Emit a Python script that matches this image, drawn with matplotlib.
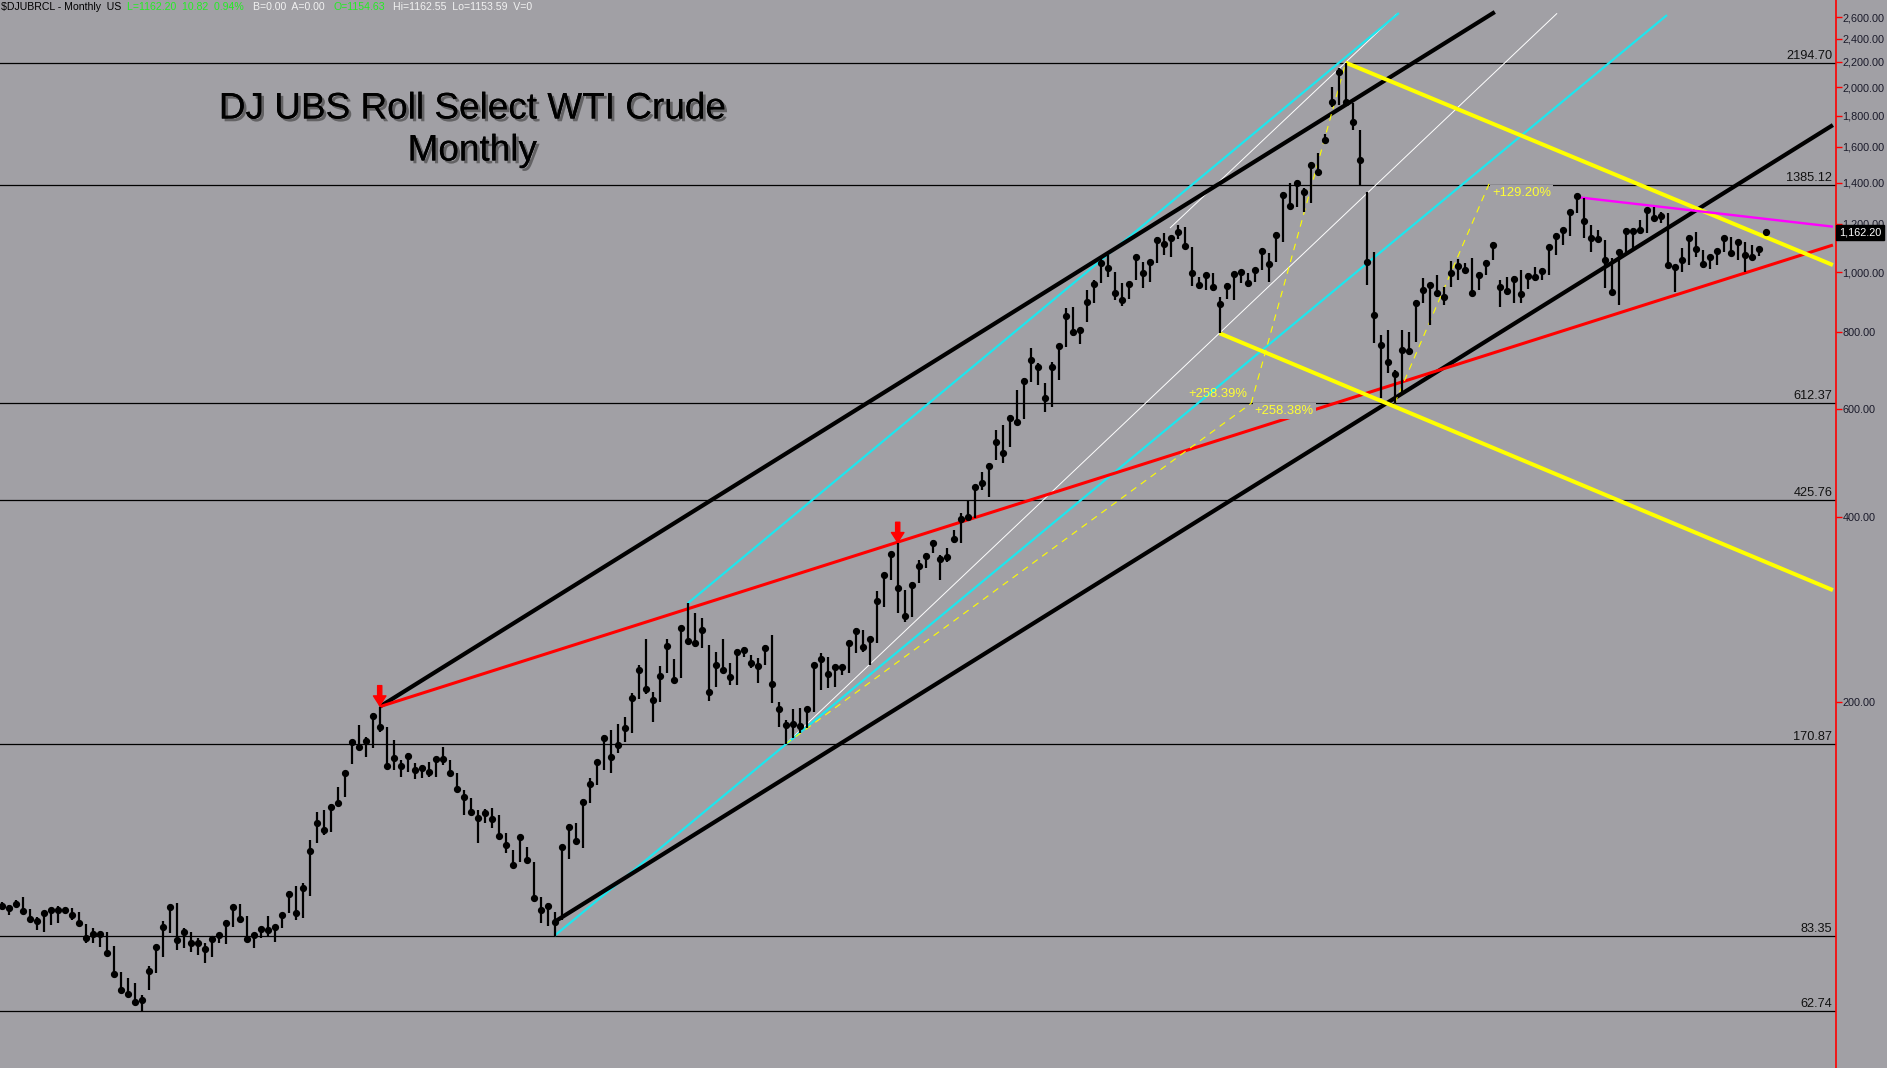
import matplotlib
matplotlib.use("Agg")
import matplotlib.pyplot as plt
import matplotlib.patheffects as pe
from matplotlib.ticker import FixedLocator, FuncFormatter, NullLocator

plt.rcParams['font.family'] = ['Liberation Sans', 'DejaVu Sans']

# monthly bars (close, high, low)
close = [93.1, 92.3, 93.8, 91.5, 88.7, 88.0, 90.8, 91.7, 91.7, 91.7,
         89.9, 87.3, 82.5, 83.7, 83.7, 78.0, 72.1, 68.0, 67.0, 65.1,
         65.5, 73.0, 79.9, 86.0, 92.9, 82.0, 84.4, 81.0, 81.0, 79.2,
         82.4, 83.4, 87.4, 92.8, 88.8, 82.3, 83.4, 85.3, 85.1, 86.1,
         89.9, 97.3, 90.6, 99.5, 114.3, 126.9, 123.8, 135.1, 137.1, 153.4,
         171.9, 169.1, 172.6, 190.0, 182.3, 157.3, 161.9, 157.5, 163.3, 155.0,
         156.0, 153.6, 161.5, 161.5, 153.1, 144.2, 140.2, 132.3, 129.3, 131.8,
         128.9, 121.1, 116.9, 108.6, 120.6, 110.6, 95.8, 91.7, 93.1, 87.8,
         116.3, 125.2, 118.7, 137.6, 147.2, 159.5, 174.9, 162.9, 170.2, 181.2,
         203.2, 225.5, 210.0, 201.5, 220.5, 247.0, 217.2, 263.6, 251.3, 249.4,
         261.9, 207.4, 229.7, 225.5, 219.9, 241.2, 243.0, 231.2, 229.1, 244.8,
         213.9, 194.6, 183.4, 184.1, 183.0, 194.8, 229.7, 235.2, 222.1, 227.7,
         227.7, 249.7, 261.2, 246.0, 253.5, 292.0, 321.8, 347.7, 306.2, 276.0,
         310.0, 333.2, 345.9, 363.2, 341.7, 344.6, 367.8, 396.4, 400.5, 448.1,
         453.8, 484.8, 529.1, 508.9, 580.2, 570.2, 666.4, 720.2, 702.3, 623.9,
         702.3, 759.8, 849.4, 798.8, 806.0, 895.1, 957.5, 1034.7, 1015.5, 924.7,
         901.8, 957.5, 1060.7, 998.9, 1039.8, 1129.1, 1111.0, 1138.8, 1163.4, 1104.1,
         996.7, 954.0, 990.4, 947.9, 888.5, 950.4, 994.1, 1000.3, 960.1, 1009.1,
         1084.8, 1032.1, 1151.8, 1336.3, 1282.5, 1399.2, 1353.0, 1495.3, 1458.2, 1642.4,
         1895.8, 2116.3, 1895.8, 1757.1, 1523.5, 1041.0, 852.6, 761.8, 713.9, 683.4,
         747.6, 744.9, 892.7, 936.2, 954.0, 924.7, 910.9, 998.9, 1024.4, 1009.1,
         924.7, 990.4, 1037.0, 1108.2, 947.9, 932.8, 975.7, 922.3, 986.7, 984.2,
         1006.5, 1101.1, 1146.2, 1172.2, 1255.3, 1331.4, 1212.4, 1137.5, 1133.4, 1047.6,
         928.2, 1080.7, 1169.1, 1167.8, 1172.2, 1263.4, 1224.6, 1235.3, 1028.2, 1019.2,
         1047.6, 1138.8, 1091.7, 1030.9, 1058.2, 1083.6, 1138.8, 1074.2, 1119.3, 1067.4,
         1060.7, 1091.7, 1162.20]
high = [94.6, 93.5, 95.2, 96.2, 92.0, 89.2, 91.1, 92.3, 93.1, 92.5,
        92.3, 90.9, 86.9, 85.6, 84.6, 84.4, 80.2, 72.6, 71.0, 69.7,
        66.7, 74.4, 80.2, 88.0, 93.5, 94.0, 85.6, 84.4, 82.7, 81.0,
        83.0, 84.2, 88.3, 93.5, 93.8, 89.7, 84.2, 86.2, 89.7, 86.7,
        90.6, 98.5, 100.4, 101.6, 119.2, 132.4, 133.4, 136.5, 145.3, 154.0,
        173.4, 183.2, 175.6, 191.6, 196.5, 182.3, 173.4, 160.9, 165.4, 158.9,
        157.9, 159.9, 162.9, 168.7, 160.9, 153.1, 143.8, 139.4, 133.4, 133.8,
        134.6, 131.0, 122.3, 114.9, 121.5, 116.3, 109.7, 96.4, 94.3, 91.1,
        117.0, 126.5, 126.9, 138.9, 150.2, 160.9, 176.7, 180.0, 184.1, 188.8,
        206.6, 229.7, 252.9, 207.9, 228.9, 252.9, 234.7, 265.2, 289.4, 279.4,
        273.6, 247.6, 241.5, 252.9, 231.2, 243.6, 246.0, 238.5, 235.5, 247.6,
        257.1, 200.2, 186.9, 194.6, 195.3, 196.5, 231.7, 240.5, 237.0, 229.7,
        229.7, 252.3, 263.6, 261.9, 255.4, 303.4, 324.6, 351.1, 362.4, 304.2,
        313.1, 340.4, 349.0, 366.9, 346.8, 355.6, 380.9, 405.6, 425.76, 450.9,
        474.0, 489.1, 554.1, 564.6, 586.1, 643.6, 672.4, 752.4, 711.3, 660.0,
        715.6, 764.6, 874.2, 879.5, 816.0, 936.2, 972.0, 1060.7, 1067.4, 1002.7,
        960.1, 965.8, 1067.4, 1041.0, 1047.6, 1140.5, 1157.8, 1146.2, 1194.3, 1183.9,
        1101.1, 984.2, 998.9, 998.9, 910.9, 960.1, 1002.7, 1009.1, 996.7, 1017.8,
        1094.6, 1074.2, 1164.7, 1353.0, 1396.2, 1413.6, 1370.3, 1513.8, 1562.2, 1677.9,
        2005.4, 2148.5, 2194.70, 1884.3, 1705.1, 1353.0, 1079.5, 790.8, 806.0, 693.7,
        806.0, 801.0, 901.8, 978.2, 960.1, 990.4, 947.9, 1045.0, 1050.3, 1034.7,
        1054.3, 1002.7, 1047.6, 1121.9, 972.0, 984.2, 986.7, 1009.1, 996.7, 1019.2,
        1015.5, 1108.2, 1157.8, 1179.6, 1263.4, 1336.3, 1319.9, 1194.3, 1172.2, 1129.1,
        1054.3, 1087.6, 1179.6, 1179.6, 1216.9, 1271.4, 1276.0, 1255.3, 1250.6, 1028.2,
        1094.6, 1150.5, 1164.7, 1087.6, 1067.4, 1090.4, 1146.2, 1143.2, 1129.1, 1121.9,
        1108.2, 1101.1, 1162.55]
low = [91.7, 90.0, 92.9, 91.1, 88.3, 85.1, 84.6, 86.7, 87.5, 90.6,
       88.3, 86.7, 81.0, 81.0, 79.9, 77.5, 71.6, 67.5, 66.7, 64.3,
       62.74, 68.0, 72.4, 77.0, 84.1, 79.0, 79.5, 78.5, 77.5, 75.3,
       77.0, 81.0, 80.8, 86.2, 87.8, 82.0, 79.5, 82.5, 83.0, 81.5,
       85.6, 90.6, 88.3, 88.9, 96.7, 117.8, 121.5, 123.0, 135.4, 140.2,
       158.3, 168.1, 162.9, 168.1, 178.9, 156.0, 155.0, 150.8, 154.0, 149.7,
       150.2, 151.2, 150.8, 157.9, 152.1, 143.4, 131.0, 131.8, 117.8, 126.9,
       124.6, 120.3, 113.4, 107.9, 109.9, 109.3, 95.2, 87.5, 86.4, 83.35,
       88.3, 110.9, 117.8, 115.6, 136.8, 146.5, 155.0, 153.4, 165.0, 172.3,
       177.8, 202.0, 205.8, 185.7, 200.2, 222.7, 215.8, 219.0, 249.2, 246.0,
       244.6, 201.0, 211.8, 222.7, 213.1, 213.1, 237.0, 226.9, 214.5, 229.7,
       199.4, 182.3, 170.87, 174.5, 177.8, 181.2, 192.8, 209.2, 210.5, 211.8,
       221.3, 222.7, 240.0, 241.5, 229.7, 249.2, 285.8, 315.8, 279.4, 270.2,
       274.6, 312.6, 330.0, 349.0, 315.8, 338.3, 362.4, 362.4, 395.4, 397.9,
       442.6, 431.6, 495.2, 489.1, 519.3, 568.2, 576.7, 663.9, 655.8, 593.4,
       604.6, 668.2, 756.9, 787.9, 764.6, 831.4, 890.8, 960.1, 984.2, 901.8,
       881.8, 904.2, 972.0, 942.2, 965.8, 1034.7, 1067.4, 1060.7, 1132.0, 1094.6,
       950.4, 938.6, 936.2, 933.8, 795.9, 904.2, 901.8, 960.1, 947.9, 965.8,
       1009.1, 965.8, 1041.0, 1121.9, 1271.4, 1279.1, 1255.3, 1295.4, 1449.4, 1622.2,
       1860.6, 1872.5, 1884.3, 1705.1, 1385.12, 954.0, 766.6, 623.9, 685.2, 612.37,
       635.7, 733.8, 771.2, 890.8, 821.2, 913.1, 885.1, 947.9, 972.0, 996.7,
       918.9, 936.2, 990.4, 1047.6, 879.5, 918.9, 890.8, 890.8, 938.6, 969.5,
       972.0, 990.4, 1067.4, 1108.2, 1146.2, 1250.6, 1136.3, 1080.7, 1121.9, 942.2,
       918.9, 885.1, 1080.7, 1094.6, 1157.8, 1157.8, 1216.9, 1201.9, 1021.7, 930.3,
       1002.7, 1028.2, 1060.7, 1015.5, 1011.7, 1028.2, 1080.7, 1067.4, 1047.6, 1002.7,
       1050.3, 1063.5, 1153.59]
bar_idx = list(range(len(close)))

# horizontal price levels
levels = [2194.70, 1385.12, 612.37, 425.76, 170.87, 83.35, 62.74]

# trend lines as (bar index, price) pairs
upper_black = [(54, 196.5), (213.3, 2653)]
lower_black = [(79, 87.8), (261.6, 1737)]
cyan_upper = [(98, 289.4), (199.6, 2643)]
cyan_lower = [(79, 83.35), (237.9, 2623)]
white_long = [(112, 170.87), (222.2, 2640)]
white_short = [(166.9, 1181), (199.3, 2633)]
red_line = [(54, 196.5), (261.6, 1108)]
yellow_upper = [(192, 2194.7), (261.6, 1028)]
yellow_lower = [(174, 795.9), (261.6, 304.1)]
magenta_line = [(225, 1326), (261.6, 1187)]
dash_a = [(112, 170.87), (178.5, 612.37)]
dash_b = [(178.5, 612.37), (192, 2194.7)]
dash_c = [(199, 612.37), (212.6, 1403.5)]
arrow_bars = [54, 128]

right_ticks = [200, 400, 600, 800, 1000, 1200, 1400, 1600, 1800, 2000, 2200, 2400, 2600]
last_price = 1162.20

bg = '#a1a0a5'
W, H = 1887, 1068
fig = plt.figure(figsize=(W / 100, H / 100), dpi=100, facecolor=bg)
ax = fig.add_axes([0, 0, 1835.7 / W, 1])
ax.set_facecolor(bg)
ax.set_yscale('log')
ax.set_ylim(50.75, 2775)
ax.set_xlim(-0.243, 262.0)

# horizontal lines + their labels
for lv in levels:
    ax.axhline(lv, color='black', lw=0.9, zorder=1)
    ax.text(261.5, lv * 1.004, '%.2f' % lv, ha='right', va='bottom',
            fontsize=9.2, color='#111111', zorder=2)


def seg(pts, **kw):
    ax.plot([p[0] for p in pts], [p[1] for p in pts], solid_capstyle='butt', **kw)


seg(white_long, color='white', lw=0.7, zorder=3)
seg(white_short, color='white', lw=0.7, zorder=3)
seg(cyan_upper, color='#1ee6ee', lw=1.6, zorder=3)
seg(cyan_lower, color='#1ee6ee', lw=1.6, zorder=3)
seg(upper_black, color='black', lw=3.0, zorder=3)
seg(lower_black, color='black', lw=3.0, zorder=3)
seg(red_line, color='#ff0000', lw=2.2, zorder=3)
seg(yellow_upper, color='#ffff00', lw=2.9, zorder=3)
seg(yellow_lower, color='#ffff00', lw=2.9, zorder=3)
seg(magenta_line, color='#ff00ff', lw=1.7, zorder=3)
for d in (dash_a, dash_b, dash_c):
    seg(d, color='#ffff00', lw=0.8, ls=(0, (6, 5)), zorder=3)

# percentage labels
box = dict(boxstyle='square,pad=0.15', fc=bg, ec='none')
ax.text(177.9, 634, '+258.39%', ha='right', va='center', fontsize=9.4,
        color='#ffff33', zorder=4)
ax.text(179.0, 595, '+258.38%', ha='left', va='center', fontsize=9.4,
        color='#ffff33', bbox=box, zorder=4)
ax.text(212.9, 1346, '+129.20%', ha='left', va='center', fontsize=9.4,
        color='#ffff33', bbox=box, zorder=4)

# the monthly bars
ax.vlines(bar_idx, low, high, color='black', lw=1.6, zorder=5)
ax.plot(bar_idx, close, 'o', color='black', ms=4.2, zorder=6)

# red arrows over the two highs
for b in arrow_bars:
    ax.annotate('', xy=(b, high[b] * 1.004), xytext=(0, 20),
                textcoords='offset pixels',
                arrowprops=dict(facecolor='#ff0000', edgecolor='#ff0000',
                                width=3, headwidth=9, headlength=7),
                zorder=7)

# right axis
for s in ['top', 'left', 'bottom']:
    ax.spines[s].set_visible(False)
ax.spines['right'].set_color('#ff0000')
ax.spines['right'].set_linewidth(1.2)
ax.xaxis.set_major_locator(NullLocator())
ax.yaxis.tick_right()
ax.yaxis.set_major_locator(FixedLocator(right_ticks))
ax.yaxis.set_minor_locator(NullLocator())
ax.yaxis.set_major_formatter(FuncFormatter(lambda v, p: '{:,.2f}'.format(v)))
ax.tick_params(axis='y', colors='#ff0000', labelcolor='#1a1a2a', length=4,
               width=1, pad=1, labelsize=7.8)

ax.annotate('{:,.2f}'.format(last_price), xy=(1, last_price),
            xycoords=('axes fraction', 'data'), xytext=(3, 0),
            textcoords='offset pixels', ha='left', va='center', fontsize=7.8,
            color='white', annotation_clip=False,
            bbox=dict(boxstyle='square,pad=0.25', fc='black', ec='black'))

# header line
hdr_y = 1 - 7 / H
fig.text(1 / W, hdr_y, '$DJUBRCL - Monthly  US', fontsize=7.6, color='black', va='center')
fig.text(127 / W, hdr_y, 'L=1162.20  10.82  0.94%', fontsize=7.6, color='#22ee22', va='center')
fig.text(253 / W, hdr_y, 'B=0.00  A=0.00', fontsize=7.6, color='#f2f2f2', va='center')
fig.text(334 / W, hdr_y, 'O=1154.63', fontsize=7.6, color='#22ee22', va='center')
fig.text(393 / W, hdr_y, 'Hi=1162.55  Lo=1153.59  V=0', fontsize=7.6, color='#f2f2f2', va='center')

# title with a soft shadow
shadow = [pe.withSimplePatchShadow(offset=(2, -2), shadow_rgbFace='#3a3a3a', alpha=0.6), pe.Normal()]
fig.text(472 / W, 1 - 109 / H, 'DJ UBS Roll Select WTI Crude', fontsize=26.6,
         ha='center', va='center', color='black', path_effects=shadow)
fig.text(472 / W, 1 - 151 / H, 'Monthly', fontsize=26.6,
         ha='center', va='center', color='black', path_effects=shadow)

fig.savefig('out.png', dpi=100, facecolor=bg)
